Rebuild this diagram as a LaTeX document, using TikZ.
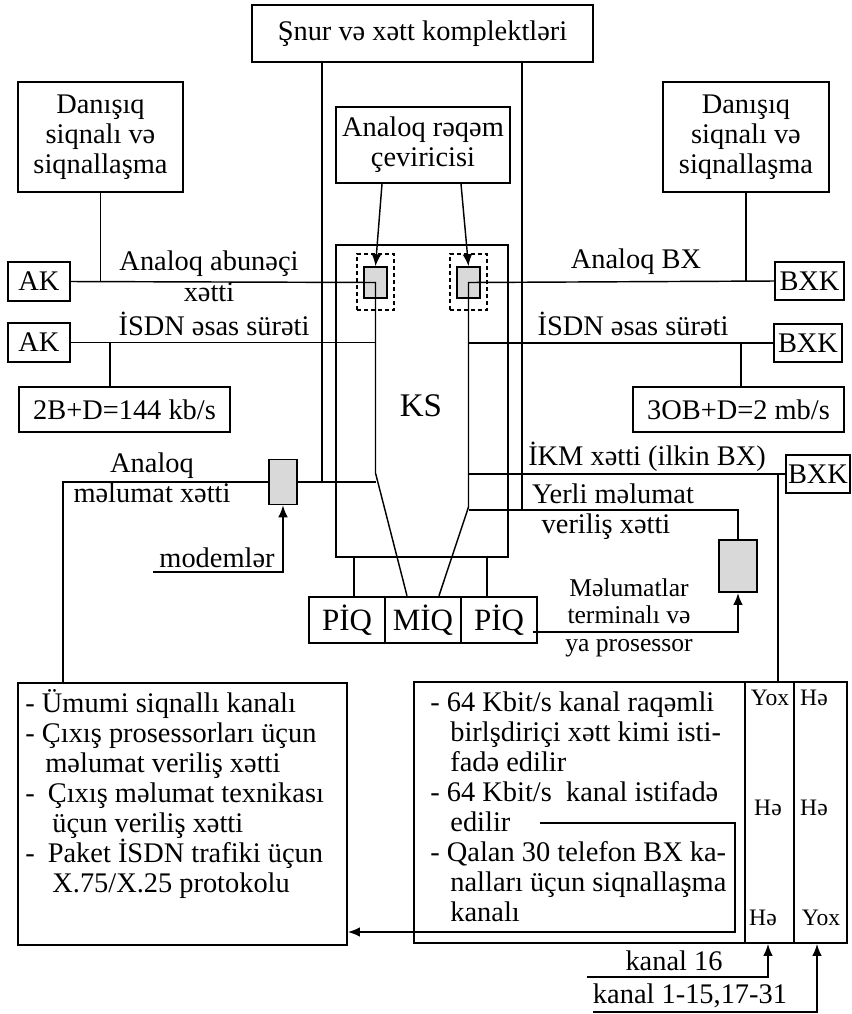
\documentclass[tikz,border=0pt]{standalone}
\usepackage{fontspec}
\setmainfont{Liberation Serif}
\usepackage{tikz}
\usetikzlibrary{arrows.meta,calc}

\newcommand{\fmain}{\fontsize{14.2pt}{15pt}\selectfont}
\newcommand{\fsmall}{\fontsize{12.8pt}{13.6pt}\selectfont}
\newcommand{\ftiny}{\fontsize{11.8pt}{13pt}\selectfont}
\newcommand{\fbig}{\fontsize{15.5pt}{17pt}\selectfont}
\newcommand{\fks}{\fontsize{16.5pt}{18pt}\selectfont}

\begin{document}
\begin{tikzpicture}[x=0.5pt,y=-0.5pt,>=Latex,
	box/.style={draw,line width=0.95pt,inner sep=0pt,align=center,font=\fmain},
	wh/.style 2 args={minimum width=#1*0.5pt,minimum height=#2*0.5pt},
	gbox/.style={draw,line width=0.8pt,fill=black!15,inner sep=0pt},
	dbox/.style={draw,line width=0.65pt,dash pattern=on 2pt off 1.5pt,inner sep=0pt},
	wire/.style={line width=0.72pt},
	arr/.style={wire,-{Latex[length=6pt,width=4.8pt]}},
	txt/.style={inner sep=0pt,anchor=base,font=\fmain}]
		
		\useasboundingbox (0,0) rectangle (852,1014);
		
		%----------------------------------------
		% Upper blocks
		%----------------------------------------
		\node[box,wh={341}{57}] (snur) at (422.5,33.5) {Şnur və xətt komplektləri};
		\node[box,wh={165}{110}] (dsL) at (100.5,137) {Danışıq\\siqnalı və\\siqnallaşma};
		\node[box,wh={166}{110}] (dsR) at (746,137) {Danışıq\\siqnalı və\\siqnallaşma};
		\node[box,wh={174}{76}] (adc) at (423,145) {Analoq rəqəm\\çeviricisi};
		
		%----------------------------------------
		% Switching field
		%----------------------------------------
		\node[draw,line width=1.25pt,inner sep=0pt,wh={172}{312}] (ks) at (422,401) {};
		\node[inner sep=0pt,font=\fks] (kslbl) at (421,406) {KS};
		
		\node[dbox,wh={37}{56}] (dL) at (375.5,282) {};
		\node[dbox,wh={37}{56}] (dR) at (468.5,282) {};
		\node[gbox,wh={23}{31}] (gL) at (375.5,282.5) {};
		\node[gbox,wh={23}{31}] (gR) at (468.5,282.5) {};
		
		%----------------------------------------
		% Subscriber and trunk terminations
		%----------------------------------------
		\node[box,wh={62}{39}] (ak1) at (39,281.5) {AK};
		\node[box,wh={62}{39}] (ak2) at (39,342.5) {AK};
		\node[box,wh={69}{38}] (bxk1) at (809.5,281) {BXK};
		\node[box,wh={68}{38}] (bxk2) at (808,343) {BXK};
		\node[box,wh={64}{38}] (bxk3) at (818,474) {BXK};
		
		\node[box,wh={211}{45}] (rateL) at (124.5,409.5) {2B+D=144 kb/s};
		\node[box,wh={211}{45}] (rateR) at (738.5,409.5) {3OB+D=2 mb/s};
		
		\node[gbox,wh={28}{45}] (modem) at (283,482) {};
		\node[gbox,wh={38}{52}] (term) at (738,566) {};
		
		%----------------------------------------
		% Processors
		%----------------------------------------
		\node[box,wh={76}{46},font=\fbig] (piqL) at (347,620) {PİQ};
		\node[box,line width=1.25pt,wh={76}{46},font=\fbig] (miq) at (423,620) {MİQ};
		\node[box,wh={76}{46},font=\fbig] (piqR) at (499,620) {PİQ};
		
		%----------------------------------------
		% Lower tables
		%----------------------------------------
		\node[box,wh={329}{262}] (info) at (182.5,814) {};
		\node[box,wh={331}{261}] (chan) at (579.5,812.5) {};
		\node[box,wh={49}{261}] (colA) at (769.5,812.5) {};
		\node[box,wh={53}{261}] (colB) at (820.5,812.5) {};
		
		%----------------------------------------
		% Bends and free ends
		%----------------------------------------
		\coordinate (bendL) at (375.5,473);
		\coordinate (bendR) at (468.5,507);
		\coordinate (cordL) at (322,482);
		\coordinate (cordR) at (522,510);
		\coordinate (dataL) at (63,482);
		\coordinate (isdnL) at (110,343);
		\coordinate (isdnR) at (741,343);
		\coordinate (ikm) at (778,474);
		\coordinate (mdm) at (153,572);
		\coordinate (edl) at (540,823);
		\coordinate (edr) at (735,932);
		\coordinate (k16) at (587,977);
		\coordinate (k31) at (593,1012);
		
		%----------------------------------------
		% Connections
		%----------------------------------------
		\draw[wire] (snur.south -| cordL) -- (cordL);
		\draw[wire] (snur.south -| cordR) -- (cordR);
		\draw[wire] (dsL.south) -- (dsL.south |- ak1);
		\draw[wire] (dsR.south) -- (dsR.south |- bxk1);
		
		\draw[arr] ([xshift=-20.5pt]adc.south) -- (gL.north);
		\draw[arr] ([xshift=19pt]adc.south) -- (gR.north);
		
		\draw[wire] (ak1.east) -- (gL.center) -- (bendL) -- ([xshift=-8pt]miq.north);
		\draw[wire] (bxk1.west) -- (gR.center) -- (bendR) -- ([xshift=8pt]miq.north);
		
		\draw[wire] (ak2.east) -- (ak2.east -| gL);
		\draw[wire] (isdnL) -- (isdnL |- rateL.north);
		\draw[wire] (bxk2.west) -- (bxk2.west -| gR);
		\draw[wire] (isdnR) -- (isdnR |- rateR.north);
		
		\draw[wire] (info.north -| dataL) -- (dataL) -- (modem.west);
		\draw[wire] (modem.east) -- (modem.east -| bendL);
		\draw[arr] (mdm) -| (modem.south);
		
		\draw[wire] (bxk3.west -| bendR) -- (bxk3.west);
		\draw[wire] (ikm) -- (ikm |- colA.north);
		\draw[wire] (cordR -| bendR) -| (term.north);
		\draw[arr,line width=1.1pt] ([xshift=-2.5pt,yshift=-6pt]piqR.east) -| (term.south);
		
		\draw[wire] ([xshift=3.5pt]piqL.north) -- ([xshift=3.5pt]piqL.north |- ks.south);
		\draw[wire] ([xshift=-6pt]piqR.north) -- ([xshift=-6pt]piqR.north |- ks.south);
		
		\draw[arr] (edl) -| (edr) -- (edr -| info.east);
		\draw[arr] (k16) -| ([xshift=-0.75pt]colA.south);
		\draw[arr] (k31) -| ([xshift=-1.75pt]colB.south);
		
		%----------------------------------------
		% Line labels
		%----------------------------------------
		\node[txt] (lAab) at (209,270) {Analoq abunəçi};
		\node[txt] (lAx) at (209,301) {xətti};
		\node[txt] (lIsL) at (214,335) {İSDN əsas sürəti};
		\node[txt] (lAbx) at (636,268) {Analoq BX};
		\node[txt] (lIsR) at (633,335) {İSDN əsas sürəti};
		\node[txt] (lAd1) at (152,472) {Analoq};
		\node[txt] (lAd2) at (152,502) {məlumat xətti};
		\node[txt] (lMod) at (217,567) {modemlər};
		\node[txt] (lIkm) at (647,465) {İKM xətti (ilkin BX)};
		\node[txt] (lYe1) at (613,503) {Yerli məlumat};
		\node[txt] (lYe2) at (606,533) {veriliş xətti};
		% multi-line texts: base is the last line
		\node[txt,font=\fsmall,align=center] (lTerm) at (629,651) {Məlumatlar\\terminalı və\\ya prosessor};
		\node[txt] (lK16) at (674,970) {kanal 16};
		\node[txt] (lK31) at (690,1003) {kanal 1-15,17-31};
		
		%----------------------------------------
		% Table texts
		%----------------------------------------
		\node[txt,anchor=base west,align=left] (tInfo) at (25,892)
		{- Ümumi siqnallı kanalı\\
			- Çıxış prosessorları üçun\\
			\hspace*{10pt}məlumat veriliş xətti\\
			-\hspace*{6.5pt}Çıxış məlumat texnikası\\
			\hspace*{13.5pt}üçun veriliş xətti\\
			-\hspace*{6.5pt}Paket İSDN trafiki üçun\\
			\hspace*{13.5pt}X.75/X.25 protokolu};
		\node[txt,anchor=base west,align=left] (tChan) at (430,921)
		{- 64 Kbit/s kanal raqəmli\\
			\hspace*{10pt}birlşdiriçi xətt kimi isti-\\
			\hspace*{10pt}fadə edilir\\
			- 64 Kbit/s\ \ kanal istifadə\\
			\hspace*{10pt}edilir\\
			- Qalan 30 telefon BX ka-\\
			\hspace*{10pt}nalları üçun siqnallaşma\\
			\hspace*{10pt}kanalı};
		
		\node[txt,font=\ftiny] (a1) at (770,705) {Yox};
		\node[txt,font=\ftiny] (b1) at (814,705) {Hə};
		\node[txt,font=\ftiny] (a2) at (768,815) {Hə};
		\node[txt,font=\ftiny] (b2) at (814,815) {Hə};
		\node[txt,font=\ftiny] (a3) at (763,925) {Hə};
		\node[txt,font=\ftiny] (b3) at (821,925) {Yox};
		
	\end{tikzpicture}
\end{document}
